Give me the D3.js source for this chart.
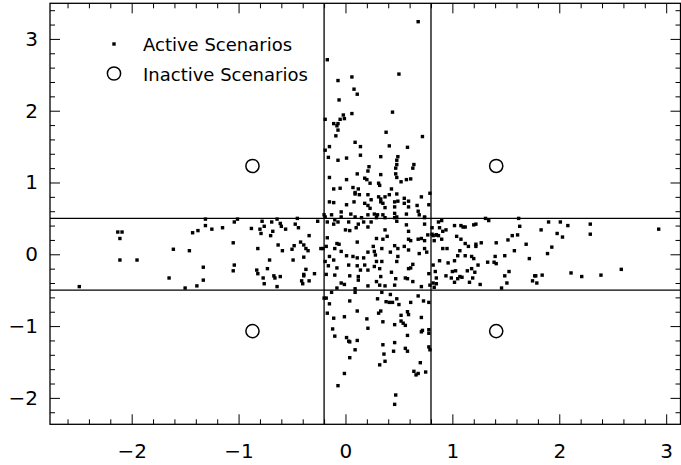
<!DOCTYPE html>
<html>
<head>
<meta charset="utf-8">
<script src="https://d3js.org/d3.v7.min.js"></script>
<style>
  html, body { margin: 0; padding: 0; background: #fff; }
  svg { display: block; font-family: "DejaVu Sans", sans-serif; }
</style>
</head>
<body>
<svg id="chart" width="681" height="465"></svg>
<script>
// ---- data ----
// active scenarios, grouped by the region they sit in
const activeLeftBand = [
  [-1.31,0.49],[-1.01,0.49],[-1.04,0.45],[-1.31,0.40],[-1.25,0.35],[-1.15,0.37],[-2.13,0.31],[-2.09,0.31],
  [-2.11,0.22],[-1.43,0.30],[-1.38,0.33],[-1.05,0.16],[-1.61,0.07],[-1.46,0.05],[-2.11,-0.08],[-1.95,-0.08],
  [-1.33,-0.18],[-1.04,-0.15],[-1.05,-0.23],[-1.65,-0.33],[-1.33,-0.36],[-1.39,-0.44],[-1.50,-0.47],[-2.49,-0.45],
  [-0.78,0.46],[-0.69,0.45],[-0.64,0.49],[-0.61,0.43],[-0.45,0.50],[-0.26,0.46],[-0.88,0.36],[-0.80,0.35],
  [-0.76,0.39],[-0.79,0.29],[-0.68,0.32],[-0.70,0.26],[-0.60,0.39],[-0.56,0.35],[-0.47,0.42],[-0.44,0.37],
  [-0.34,0.26],[-0.82,0.08],[-0.63,0.13],[-0.59,0.05],[-0.50,0.07],[-0.48,0.12],[-0.42,0.17],[-0.39,0.13],
  [-0.37,0.08],[-0.35,0.05],[-0.49,-0.08],[-0.39,-0.04],[-0.71,-0.08],[-0.83,-0.22],[-0.82,-0.27],[-0.73,-0.20],
  [-0.77,-0.33],[-0.67,-0.30],[-0.66,-0.33],[-0.61,-0.31],[-0.76,-0.41],[-0.64,-0.45],[-0.37,-0.21],[-0.29,-0.27],
  [-0.39,-0.28],[-0.39,-0.30],[-0.41,-0.37],[-0.40,-0.41],[-0.34,-0.37],[-0.23,0.08],[-0.21,0.08]
];
const activeCore = [
  [-0.19,0.52],[-0.17,0.45],[-0.11,0.42],[-0.10,0.48],[-0.07,0.45],[-0.04,0.52],[0.03,0.45],[0.00,0.34],
  [0.04,0.33],[0.10,0.37],[0.12,0.42],[0.17,0.45],[0.21,0.38],[0.24,0.45],[0.29,0.51],[0.09,0.52],
  [-0.17,0.23],[-0.18,0.11],[-0.08,0.15],[-0.06,0.14],[-0.10,0.08],[-0.04,0.04],[0.01,-0.02],[0.11,0.17],
  [0.07,-0.03],[0.11,-0.05],[0.17,-0.05],[0.21,0.03],[0.26,0.11],[0.27,0.04],[0.28,-0.01],[-0.15,-0.03],
  [-0.11,-0.08],[-0.19,-0.10],[-0.16,-0.16],[-0.08,-0.19],[0.03,-0.15],[0.11,-0.16],[0.18,-0.15],[0.14,-0.22],
  [0.21,-0.22],[0.27,-0.17],[0.29,-0.10],[-0.18,-0.28],[-0.10,-0.29],[0.04,-0.30],[0.12,-0.31],[0.12,-0.36],
  [-0.04,-0.40],[-0.01,-0.42],[-0.08,-0.47],[0.09,-0.48],[0.21,-0.44],[0.29,-0.38],
  [0.37,0.51],[0.46,0.51],[0.48,0.46],[0.57,0.41],[0.74,0.42],[0.74,0.51],[0.37,0.34],[0.59,0.32],
  [0.29,0.22],[0.35,0.21],[0.39,0.25],[0.59,0.21],[0.61,0.19],[0.68,0.21],[0.71,0.22],[0.74,0.19],
  [0.77,0.27],[0.82,0.26],[0.85,0.27],[0.34,0.08],[0.42,0.03],[0.46,0.12],[0.49,0.08],[0.55,0.11],
  [0.59,0.06],[0.69,0.01],[0.74,0.08],[0.76,0.03],[0.34,-0.10],[0.49,-0.03],[0.48,-0.10],[0.63,-0.14],
  [0.32,-0.20],[0.43,-0.25],[0.59,-0.20],[0.61,-0.19],[0.78,-0.27],[0.82,-0.15],[0.33,-0.31],[0.32,-0.43],
  [0.37,-0.44],[0.46,-0.43],[0.56,-0.33],[0.58,-0.34],[0.63,-0.38],[0.71,-0.45],[0.79,-0.43],[0.82,-0.40],
  [0.47,-0.34]
];
const activeUpper = [
  [0.68,3.24],[-0.17,2.71],[0.50,2.51],[-0.07,2.42],[0.06,2.47],[0.08,2.30],[0.11,2.23],[-0.06,2.15],
  [0.44,1.98],[0.06,1.96],[-0.02,1.94],[-0.19,1.88],[-0.05,1.88],[-0.01,1.89],[-0.11,1.82],[-0.07,1.82],
  [-0.08,1.79],[-0.07,1.73],[0.38,1.70],
  [-0.09,1.65],[0.72,1.64],[-0.15,1.50],[-0.19,1.45],[0.09,1.56],[0.14,1.50],[0.41,1.51],[0.58,1.49],
  [-0.16,1.35],[-0.07,1.31],[0.01,1.34],[0.14,1.38],[0.33,1.36],[0.49,1.36],[0.48,1.31],[0.48,1.25],
  [0.64,1.25],[0.63,1.20],[0.22,1.22],[0.21,1.16],[0.47,1.20],[0.11,1.12],[0.33,1.11],[0.47,1.12],
  [-0.15,1.07],[0.01,1.04],[0.18,1.06],[0.20,1.04],[0.48,1.07],[0.57,1.04],[0.61,1.05],[-0.11,0.91],
  [-0.05,0.92],[0.07,0.93],[0.12,0.91],[0.09,0.86],[0.23,0.99],[0.31,0.99],[0.32,0.96],[0.43,0.91],
  [0.52,1.01],[0.71,0.80],[0.79,0.85],[0.09,0.84],[0.13,0.83],[0.21,0.83],[0.24,0.76],[0.31,0.80],
  [0.33,0.77],[0.37,0.80],[0.41,0.83],[0.48,0.84],[0.55,0.78],[0.59,0.74],[-0.15,0.73],[-0.11,0.72],
  [0.01,0.69],[0.08,0.73],[0.18,0.71],[0.21,0.68],[0.33,0.73],[0.35,0.71],[0.46,0.73],[0.49,0.74],
  [0.55,0.71],[0.67,0.68],[0.78,0.69],[0.23,0.64],[0.37,0.65],[0.46,0.66],[0.59,0.66],[0.68,0.60],
  [-0.20,0.55],[-0.13,0.55],[-0.04,0.59],[0.05,0.56],[0.15,0.51],[0.21,0.55],[0.27,0.56],[0.30,0.55],
  [0.35,0.55],[0.46,0.57],[0.48,0.52],[0.57,0.56],[0.69,0.55],[0.74,0.52]
];
const activeLower = [
  [-0.13,-0.53],[0.09,-0.53],[0.34,-0.53],[0.42,-0.56],[0.68,-0.58],[-0.18,-0.61],[-0.20,-0.61],[-0.15,-0.69],
  [0.04,-0.65],[0.30,-0.62],[0.38,-0.66],[0.41,-0.67],[0.44,-0.67],[0.48,-0.62],[0.50,-0.70],[0.61,-0.67],
  [0.73,-0.65],[0.78,-0.67],[-0.17,-0.82],[-0.11,-0.89],[-0.01,-0.87],[0.11,-0.79],[0.31,-0.82],[0.33,-0.79],
  [0.52,-0.85],[0.58,-0.80],[0.59,-0.84],[0.20,-0.90],[0.35,-0.94],[0.46,-0.98],[0.52,-0.93],[0.54,-0.96],
  [0.56,-0.99],[0.71,-0.88],[-0.12,-1.04],[0.21,-1.03],[0.71,-1.08],[0.72,-1.06],[0.78,-1.05],[0.78,-1.10],
  [-0.10,-1.14],[0.01,-1.16],[0.03,-1.21],[0.04,-1.22],[0.11,-1.20],[0.58,-1.13],[0.46,-1.23],[0.35,-1.26],
  [0.09,-1.33],[0.45,-1.35],[0.56,-1.31],[0.58,-1.35],[0.78,-1.29],[0.79,-1.33],[0.36,-1.39],[0.04,-1.44],
  [0.37,-1.49],[0.32,-1.54],[0.70,-1.51],[-0.01,-1.66],[0.64,-1.63],[0.66,-1.68],[0.68,-1.66],[0.75,-1.64],
  [-0.07,-1.83],[0.47,-1.96],[0.46,-2.09]
];
const activeRightBand = [
  [0.87,0.45],[0.90,0.47],[0.81,0.37],[0.88,0.37],[0.91,0.32],[0.94,0.34],[0.81,0.28],[0.85,0.27],
  [0.87,0.26],[0.83,0.19],[0.90,0.21],[1.02,0.40],[1.08,0.40],[1.10,0.38],[1.12,0.38],[1.20,0.41],
  [1.22,0.42],[1.31,0.50],[1.34,0.47],[1.62,0.50],[1.63,0.39],[1.04,0.25],[1.08,0.21],[1.12,0.15],
  [1.15,0.11],[1.22,0.14],[1.22,0.11],[1.27,0.16],[1.41,0.16],[1.52,0.20],[1.56,0.26],[1.61,0.27],
  [1.69,0.14],[0.91,0.08],[0.95,0.08],[1.07,0.05],[1.05,-0.02],[1.12,-0.02],[1.18,-0.03],[1.20,-0.06],
  [1.40,-0.03],[1.49,-0.02],[1.58,0.05],[1.72,-0.06],[1.83,0.34],[1.90,0.45],[2.01,0.45],[2.08,0.40],
  [1.98,0.29],[2.03,0.24],[2.29,0.42],[2.29,0.28],[1.93,0.10],[1.89,0.01],[2.93,0.35],[0.88,-0.09],
  [0.96,-0.12],[1.02,-0.09],[1.24,-0.15],[1.33,-0.11],[1.39,-0.11],[1.41,-0.13],[0.84,-0.24],[1.00,-0.24],
  [1.03,-0.23],[1.14,-0.23],[1.18,-0.20],[1.21,-0.25],[1.53,-0.24],[1.49,-0.30],[0.85,-0.33],[0.94,-0.30],
  [0.99,-0.33],[1.05,-0.34],[1.07,-0.31],[1.09,-0.32],[1.02,-0.39],[1.19,-0.33],[1.16,-0.39],[1.26,-0.42],
  [0.85,-0.41],[0.83,-0.46],[1.46,-0.47],[1.51,-0.40],[1.77,-0.30],[1.78,-0.30],[1.84,-0.29],[1.75,-0.37],
  [1.79,-0.40],[2.11,-0.26],[2.21,-0.31],[2.39,-0.29],[2.58,-0.21]
];
const inactivePoints = [[-0.87,1.23],[1.41,1.23],[-0.87,-1.07],[1.41,-1.07]];

const xCuts = [-0.2, 0.8];
const yCuts = [-0.5, 0.5];
const xMajorTicks = [-2, -1, 0, 1, 2, 3];
const yMajorTicks = [-2, -1, 0, 1, 2, 3];
const legendLabels = ['Active Scenarios', 'Inactive Scenarios'];

const activePoints = [].concat(activeLeftBand, activeCore, activeUpper, activeLower, activeRightBand);

// ---- layout ----
const W = 681, H = 465;
const plot = { left: 50, right: 680.5, top: 3.3, bottom: 424.3 };

const x = d3.scaleLinear().domain([-2.764, 3.134]).range([plot.left, plot.right]);
const y = d3.scaleLinear().domain([-2.368, 3.496]).range([plot.bottom, plot.top]);

const svg = d3.select('#chart');
svg.append('rect').attr('width', W).attr('height', H).attr('fill', '#fff');

// minor ticks every 0.2, skipping the integer (major) positions
const minor = (lo, hi) => d3.range(Math.ceil(lo * 5), Math.floor(hi * 5) + 1)
  .map(v => v / 5).filter(v => Math.abs(v - Math.round(v)) > 1e-9);
const xMinor = minor(-2.764, 3.134);
const yMinor = minor(-2.368, 3.496);

const fmt = d3.format('d');

// ---- cut lines ----
const g = svg.append('g');
g.selectAll('line.vcut').data(xCuts).enter().append('line')
  .attr('class', 'vcut')
  .attr('x1', d => x(d)).attr('x2', d => x(d))
  .attr('y1', plot.top).attr('y2', plot.bottom)
  .attr('stroke', '#000').attr('stroke-width', 1.3);
g.selectAll('line.hcut').data(yCuts).enter().append('line')
  .attr('class', 'hcut')
  .attr('x1', plot.left).attr('x2', plot.right)
  .attr('y1', d => y(d)).attr('y2', d => y(d))
  .attr('stroke', '#000').attr('stroke-width', 1.3);

// ---- points ----
const S = 3.4;
g.selectAll('rect.active').data(activePoints).enter().append('rect')
  .attr('class', 'active')
  .attr('x', d => x(d[0]) - S / 2).attr('y', d => y(d[1]) - S / 2)
  .attr('width', S).attr('height', S)
  .attr('fill', '#000');

g.selectAll('circle.inactive').data(inactivePoints).enter().append('circle')
  .attr('class', 'inactive')
  .attr('cx', d => x(d[0])).attr('cy', d => y(d[1]))
  .attr('r', 6.6)
  .attr('fill', 'none').attr('stroke', '#000').attr('stroke-width', 1.5);

// ---- axes (ticks point inward, on all four sides) ----
function styleAxis(sel) {
  sel.select('.domain').remove();
  sel.selectAll('.tick line').attr('stroke', '#000').attr('stroke-width', 1);
  sel.selectAll('.tick text').attr('fill', '#000').attr('font-size', 20)
    .attr('font-family', '"DejaVu Sans", sans-serif');
}

svg.append('g').attr('transform', `translate(0,${plot.bottom})`)
  .call(d3.axisBottom(x).tickValues(xMajorTicks).tickSize(-10).tickPadding(20).tickFormat(fmt))
  .call(styleAxis);
svg.append('g').attr('transform', `translate(0,${plot.bottom})`)
  .call(d3.axisBottom(x).tickValues(xMinor).tickSize(-5).tickFormat(''))
  .call(styleAxis);
svg.append('g').attr('transform', `translate(0,${plot.top})`)
  .call(d3.axisTop(x).tickValues(xMajorTicks).tickSize(-10).tickFormat(''))
  .call(styleAxis);
svg.append('g').attr('transform', `translate(0,${plot.top})`)
  .call(d3.axisTop(x).tickValues(xMinor).tickSize(-5).tickFormat(''))
  .call(styleAxis);

svg.append('g').attr('transform', `translate(${plot.left},0)`)
  .call(d3.axisLeft(y).tickValues(yMajorTicks).tickSize(-10).tickPadding(12).tickFormat(fmt))
  .call(styleAxis);
svg.append('g').attr('transform', `translate(${plot.left},0)`)
  .call(d3.axisLeft(y).tickValues(yMinor).tickSize(-5).tickFormat(''))
  .call(styleAxis);
svg.append('g').attr('transform', `translate(${plot.right},0)`)
  .call(d3.axisRight(y).tickValues(yMajorTicks).tickSize(-10).tickFormat(''))
  .call(styleAxis);
svg.append('g').attr('transform', `translate(${plot.right},0)`)
  .call(d3.axisRight(y).tickValues(yMinor).tickSize(-5).tickFormat(''))
  .call(styleAxis);

// frame
svg.append('rect')
  .attr('x', plot.left).attr('y', plot.top)
  .attr('width', plot.right - plot.left).attr('height', plot.bottom - plot.top)
  .attr('fill', 'none').attr('stroke', '#000').attr('stroke-width', 1.3);

// ---- legend ----
const legend = svg.append('g').attr('transform', 'translate(114,44)');
const rows = legend.selectAll('g.row').data(legendLabels).enter().append('g')
  .attr('class', 'row')
  .attr('transform', (d, i) => `translate(0,${i * 29.5})`);
rows.filter((d, i) => i === 0).append('rect')
  .attr('x', -S / 2).attr('y', -S / 2).attr('width', S).attr('height', S).attr('fill', '#000');
rows.filter((d, i) => i === 1).append('circle')
  .attr('r', 6.6).attr('fill', 'none').attr('stroke', '#000').attr('stroke-width', 1.5);
rows.append('text')
  .attr('x', 29).attr('y', 7)
  .attr('font-size', 18).attr('fill', '#000')
  .text(d => d);
</script>
</body>
</html>
